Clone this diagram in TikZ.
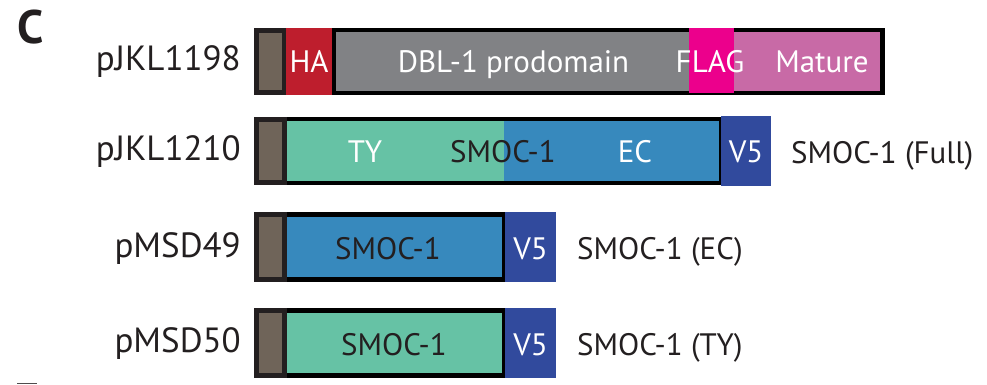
\documentclass[tikz,border=0pt]{standalone}
\usepackage{fontspec}
\setmainfont{PT Sans}
\definecolor{ink}{HTML}{231F20}
\definecolor{sigdark}{HTML}{231F20}
\definecolor{sigbrown}{HTML}{6F6459}
\definecolor{hared}{HTML}{BE1E2D}
\definecolor{progray}{HTML}{818285}
\definecolor{flagpink}{HTML}{EC008C}
\definecolor{matpink}{HTML}{C86AA6}
\definecolor{tyteal}{HTML}{66C2A5}
\definecolor{ecblue}{HTML}{3789BD}
\definecolor{vblue}{HTML}{314A9D}
\begin{document}
\begin{tikzpicture}[x=1pt,y=-1pt,
  seg/.style={rectangle, inner sep=0pt, outer sep=0pt, draw=none},
  sigouter/.style={seg, fill=sigdark, minimum width=33pt, minimum height=68pt},
  siginner/.style={seg, fill=sigbrown, minimum width=23pt, minimum height=58pt},
  frame/.style={seg, fill=black},
  intxt/.style={font=\fontsize{31}{36}\selectfont, text=white, inner sep=0pt, anchor=base},
  dktxt/.style={intxt, text=ink},
  plabel/.style={font=\fontsize{35}{40}\selectfont, text=ink, inner sep=0pt, anchor=base east},
  rlabel/.style={font=\fontsize{31}{36}\selectfont, text=ink, inner sep=0pt, anchor=base west},
  panel/.style={font=\fontsize{47}{52}\selectfont\bfseries, text=ink, inner sep=0pt, anchor=base west}]
\useasboundingbox (0,0) rectangle (987,384);

% panel letter, and the top edge of the next panel's letter
\node[panel] (pC) at (17,43) {C};
\path[fill=ink!80] (17,382.6) rectangle (37,384);

% ---- pJKL1198: HA-DBL-1 prodomain-FLAG-mature ----
\node[plabel] (l1) at (241,70) {pJKL1198};
\node[sigouter, minimum height=67pt] (s1) at (270.5,61.5) {};
\node[siginner, minimum height=57pt] (s1i) at (270.5,61.5) {};
\node[seg, fill=hared, minimum width=46pt, minimum height=67pt] (ha1) at (309,61.5) {};
\node[frame, minimum width=553pt, minimum height=67pt] (f1) at (608.5,61.5) {};
\node[seg, fill=progray, minimum width=353pt, minimum height=59pt] (pro1) at (512.5,61.5) {};
\node[seg, fill=matpink, minimum width=146pt, minimum height=59pt] (mat1) at (807,61.5) {};
\node[seg, fill=flagpink, minimum width=45pt, minimum height=65pt] (flag1) at (711.5,60.5) {};
\node[intxt] (tha) at (309,72) {HA};
\node[intxt] (tpro) at (513.5,72) {DBL-1 prodomain};
\node[intxt] (tflag) at (710,72) {FLAG};
\node[intxt] (tmat) at (822,72) {Mature};

% ---- pJKL1210: full SMOC-1 (TY + EC) with V5 ----
\node[plabel] (l2) at (241,160) {pJKL1210};
\node[frame, minimum width=439pt, minimum height=68pt] (f2) at (502.5,151) {};
\node[seg, fill=tyteal, minimum width=217pt, minimum height=60pt] (ty2) at (395.5,151) {};
\node[seg, fill=ecblue, minimum width=215pt, minimum height=60pt] (ec2) at (611.5,151) {};
\node[sigouter] (s2) at (270.5,151) {};
\node[siginner] (s2i) at (270.5,151) {};
\node[seg, fill=vblue, minimum width=50pt, minimum height=70pt] (v2) at (746,151) {};
\node[intxt] (tty2) at (365,162.5) {TY};
\node[dktxt] (tsm2) at (503,162.5) {SMOC-1};
\node[intxt] (tec2) at (635,162.5) {EC};
\node[intxt] (tv2) at (746,162.5) {V5};
\node[rlabel] (r2) at (791,163) {SMOC-1 (Full)};

% ---- pMSD49: SMOC-1 EC with V5 ----
\node[plabel] (l3) at (241,257) {pMSD49};
\node[frame, minimum width=223pt, minimum height=70pt] (f3) at (394.5,247) {};
\node[seg, fill=ecblue, minimum width=215pt, minimum height=60pt] (ec3) at (394.5,247) {};
\node[sigouter, minimum height=70pt] (s3) at (270.5,247) {};
\node[siginner, minimum height=60pt] (s3i) at (270.5,247) {};
\node[seg, fill=vblue, minimum width=51pt, minimum height=70pt] (v3) at (530.5,247) {};
\node[dktxt] (tsm3) at (388,259) {SMOC-1};
\node[intxt] (tv3) at (530.5,259) {V5};
\node[rlabel] (r3) at (577,259) {SMOC-1 (EC)};

% ---- pMSD50: SMOC-1 TY with V5 ----
\node[plabel] (l4) at (241,352) {pMSD50};
\node[frame, minimum width=223pt, minimum height=70pt] (f4) at (394.5,342.5) {};
\node[seg, fill=tyteal, minimum width=215pt, minimum height=60pt] (ty4) at (394.5,342.5) {};
\node[sigouter, minimum height=70pt] (s4) at (270.5,342.5) {};
\node[siginner, minimum height=60pt] (s4i) at (270.5,342.5) {};
\node[seg, fill=vblue, minimum width=51pt, minimum height=70pt] (v4) at (530.5,342.5) {};
\node[dktxt] (tsm4) at (394,355) {SMOC-1};
\node[intxt] (tv4) at (530.5,355) {V5};
\node[rlabel] (r4) at (577,355) {SMOC-1 (TY)};
\end{tikzpicture}
\end{document}
